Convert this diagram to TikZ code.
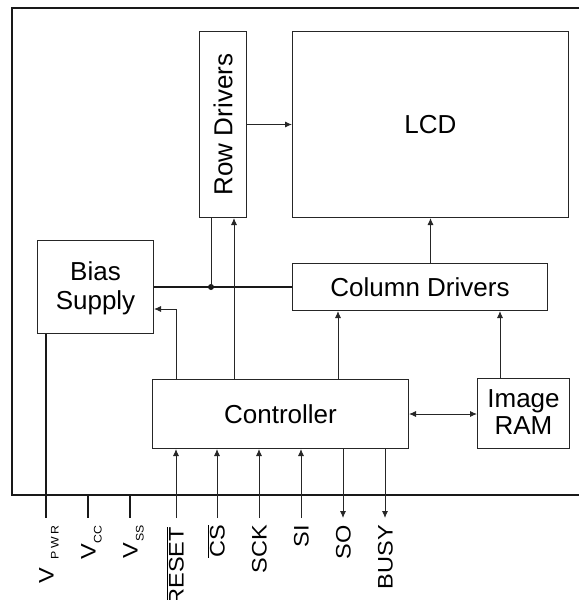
\documentclass[tikz,border=0pt]{standalone}
\usepackage{fontspec}
\setmainfont{Liberation Sans}
\usetikzlibrary{arrows.meta}
\begin{document}
\begin{tikzpicture}[x=1pt,y=-1pt,
  box/.style={draw=black!85, line width=1pt, inner sep=0, anchor=north west},
  lbl/.style={inner sep=0, align=center, font=\fontsize{26}{29}\selectfont, text=black},
  pinlbl/.style={inner sep=0, rotate=90, anchor=east, text height=15pt, text depth=0pt, font=\fontsize{21}{21}\selectfont, text=black},
  wire/.style={line width=0.9pt, draw=black!85},
  arr/.style={wire, -{Latex[length=7pt,width=6pt]}},
  darr/.style={wire, {Latex[length=7pt,width=6pt]}-{Latex[length=7pt,width=6pt]}},
  heavy/.style={line width=1.8pt, draw=black!90},
  frame/.style={line width=1.4pt, draw=black!90}
]
\useasboundingbox (0,0) rectangle (579,600);

% outer frame (open on the right)
\coordinate (ftr) at (579,8);
\coordinate (ftl) at (12,8);
\coordinate (fbl) at (12,495);
\coordinate (fbr) at (579,495);
\draw[frame] (ftr) -- (ftl) -- (fbl) -- (fbr);

% boxes
\node[box, minimum width=47pt, minimum height=186pt] (row) at (199,31) {};
\node[lbl, rotate=90] (rowtxt) at (row.center) {Row Drivers};
\node[box, minimum width=276pt, minimum height=186pt] (lcd) at (292,31) {};
\node[lbl] (lcdtxt) at (lcd.center) {LCD};
\node[box, minimum width=116pt, minimum height=93pt] (bias) at (37,240) {};
\node[lbl] (biastxt) at ([yshift=-1pt]bias.center) {Bias\\Supply};
\node[box, minimum width=255pt, minimum height=47pt] (col) at (292,263) {};
\node[lbl] (coltxt) at (col.center) {Column Drivers};
\node[box, minimum width=256pt, minimum height=69pt] (ctrl) at (152,379) {};
\node[lbl] (ctrltxt) at (ctrl.center) {Controller};
\node[box, minimum width=92pt, minimum height=70pt] (ram) at (477,378) {};
\node[lbl, font=\fontsize{26}{27}\selectfont] (ramtxt) at ([yshift=1pt]ram.center) {Image\\RAM};

% connections
\draw[arr] (row.east) -- (row.east -| lcd.west);
\draw[arr] (col.north -| lcd.south) -- (lcd.south);
\draw[heavy] (bias.east |- col.west) -- (col.west);
\coordinate (j) at (211,287);
\fill[black!90] (j) circle (3pt);
\draw[wire] (j) -- (j |- row.south);
\coordinate (c1) at (234,379);
\draw[arr] (c1) -- (c1 |- row.south);
\coordinate (c2) at (176,379);
\coordinate (c2b) at (176,309);
\draw[arr] (c2) -- (c2b) -- (c2b -| bias.east);
\coordinate (c3) at (338,379);
\draw[arr] (c3) -- (c3 |- col.south);
\coordinate (r1) at (500,378);
\draw[arr] (r1) -- (r1 |- col.south);
\draw[darr] (ctrl.east) -- (ctrl.east -| ram.west);

% pins
\coordinate (pPWR) at (46,518);
\coordinate (pCC) at (88,518);
\coordinate (pSS) at (130,518);
\coordinate (pRST) at (176,518);
\coordinate (pCS) at (217,518);
\coordinate (pSCK) at (259,518);
\coordinate (pSI) at (301,518);
\coordinate (pSO) at (343,518);
\coordinate (pBSY) at (385,518);

\draw[heavy] (pPWR |- bias.south) -- (pPWR);
\draw[heavy] (pCC |- fbl) -- (pCC);
\draw[heavy] (pSS |- fbl) -- (pSS);
\foreach \p in {pRST,pCS,pSCK,pSI}
  \draw[arr] (\p) -- (\p |- ctrl.south);
\foreach \p in {pSO,pBSY}
  \draw[arr] (\p |- ctrl.south) -- (\p);

% pin labels
\node[pinlbl] (tPWR) at (46,525) {\scalebox{1.12}[1]{V\hspace{7pt}\raisebox{-5pt}{\fontsize{11}{11}\selectfont P\hspace{2.5pt}W\hspace{2.5pt}R}}};
\node[pinlbl] (tCC) at (88,525) {\scalebox{1.12}[1]{V\hspace{1pt}\raisebox{-6pt}{\fontsize{11}{11}\selectfont CC}}};
\node[pinlbl] (tSS) at (130,525) {\scalebox{1.12}[1]{V\hspace{1pt}\raisebox{-6pt}{\fontsize{11}{11}\selectfont SS}}};
\node[pinlbl] (tRST) at (176,527) {$\overline{\hbox{\scalebox{1.12}[1]{\fontsize{21}{21}\selectfont RESET}}}$};
\node[pinlbl] (tCS) at (217,525) {$\overline{\hbox{\scalebox{1.12}[1]{\fontsize{21}{21}\selectfont CS}}}$};
\node[pinlbl] (tSCK) at (259,525) {\scalebox{1.12}[1]{SCK}};
\node[pinlbl] (tSI) at (301,525) {\scalebox{1.12}[1]{SI}};
\node[pinlbl] (tSO) at (343,525) {\scalebox{1.12}[1]{SO}};
\node[pinlbl] (tBSY) at (385,525) {\scalebox{1.12}[1]{BUSY}};
\end{tikzpicture}
\end{document}
